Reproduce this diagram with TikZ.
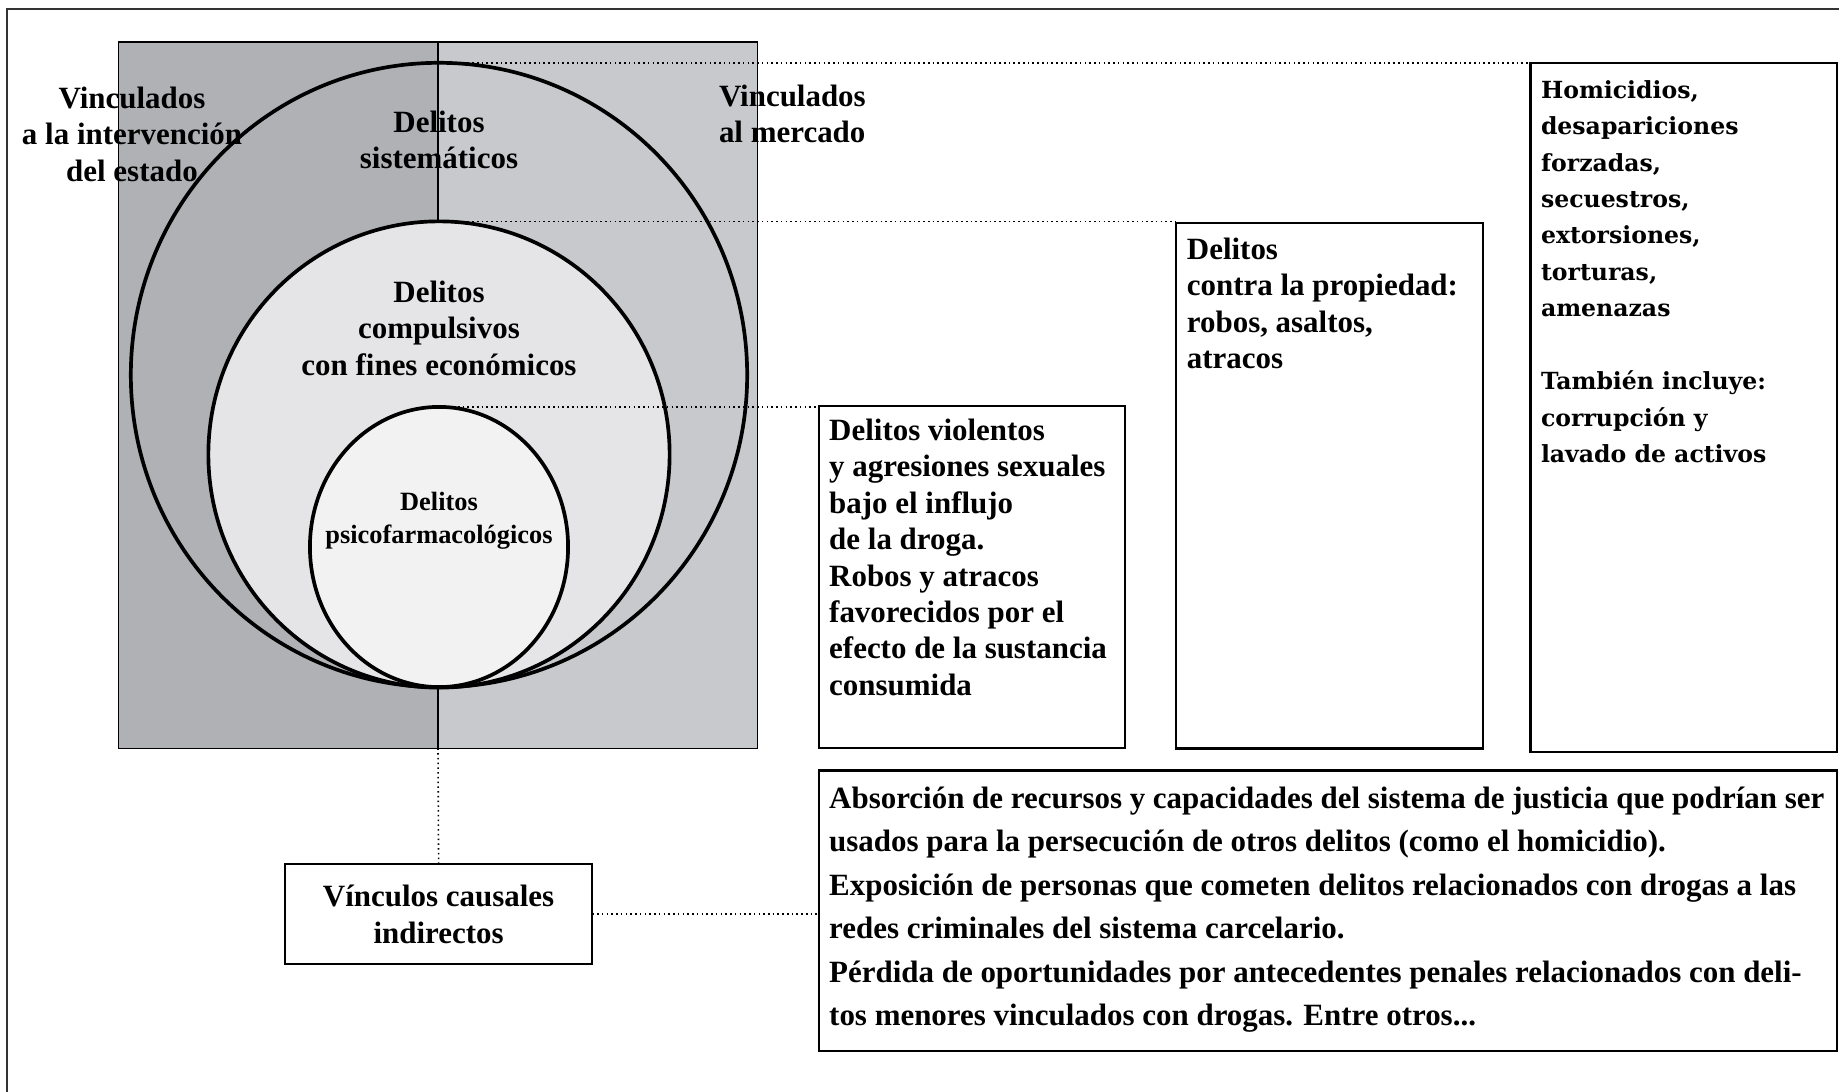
\documentclass[tikz,border=0pt]{standalone}
\usepackage{fontspec}
\newfontfamily\libserif{Liberation Serif}
\newfontfamily\djserif{DejaVu Serif}
\usetikzlibrary{positioning,shapes.geometric}

\definecolor{stategrey}{RGB}{176,177,181}
\definecolor{marketgrey}{RGB}{200,201,204}
\definecolor{compfill}{RGB}{229,229,231}
\definecolor{psicofill}{RGB}{242,242,243}

\begin{document}
\begin{tikzpicture}[x=0.01cm, y=-0.01cm,
  box/.style = {draw, line width=0.6pt, rectangle, inner sep=0pt, outer sep=0pt},
  ring/.style = {draw, ellipse, line width=1.05pt, inner sep=0pt, outer sep=0pt},
  txt/.style = {inner sep=0pt, outer sep=0pt, align=left, font=\libserif\bfseries\fontsize{8.8}{10.36}\selectfont},
  ctxt/.style = {txt, align=center},
  link/.style = {line width=0.45pt, dash pattern=on 0.45pt off 0.9pt}]
\useasboundingbox (0,0) rectangle (1839,1092);
\draw[line width=0.5pt, black!80] (7,9) rectangle (1900,1150);

% square split in two halves
\node[minimum width=6.39cm, minimum height=7.06cm, inner sep=0pt, outer sep=0pt] (sq) at (438,395.2) {};
\fill[stategrey] (sq.north west) rectangle (sq.south);
\fill[marketgrey] (sq.north) rectangle (sq.south east);
\draw[line width=0.4pt] (sq.north west) rectangle (sq.south east);
\draw[line width=0.4pt] (sq.north) -- (sq.south);

% nested ovals
\node[ring, minimum width=6.16cm, minimum height=6.24cm] (outer) at (439,375) {};
\node[ring, fill=compfill, minimum width=4.61cm, minimum height=4.66cm] (middle) at (439,454.5) {};
\node[ring, fill=psicofill, minimum width=2.58cm, minimum height=2.80cm] (inner) at (439,547) {};

\node[ctxt] (estado) at (132,134) {Vinculados\\a la intervención\\del estado};
\node[txt, anchor=west] (mercado) at (719,114) {Vinculados\\al mercado};
\node[ctxt] (sist) at (439,140) {Delitos\\sistemáticos};
\node[ctxt] (comp) at (439,328) {Delitos\\compulsivos\\con fines económicos};
\node[ctxt, font=\libserif\bfseries\fontsize{7.5}{9.33}\selectfont] (psico) at (439,521) {Delitos\\psicofarmacológicos};

% boxes on the right
\node[box, anchor=north west, minimum width=3.061cm, minimum height=3.424cm] (viol) at (818.6,405.8) {};
\node[txt, below right=0.13cm and 0.106cm of viol.north west] (violtxt) {Delitos violentos\\y agresiones sexuales\\bajo el influjo\\de la droga.\\Robos y atracos\\favorecidos por el\\efecto de la sustancia\\consumida};

\node[box, anchor=north west, minimum width=3.061cm, minimum height=5.254cm] (prop) at (1176.3,222.8) {};
\node[txt, below right=0.15cm and 0.106cm of prop.north west] (proptxt) {Delitos\\contra la propiedad:\\robos, asaltos,\\atracos};

\node[box, anchor=north west, minimum width=3.061cm, minimum height=6.885cm] (homic) at (1530.5,63.3) {};
\node[txt, font=\djserif\bfseries\fontsize{6.7}{10.36}\selectfont, below right=0.17cm and 0.105cm of homic.north west] (homictxt) {Homicidios,\\desapariciones\\forzadas,\\secuestros,\\extorsiones,\\torturas,\\amenazas\\[10.36pt]También incluye:\\corrupción y\\lavado de activos};

\node[box, anchor=north west, minimum width=10.18cm, minimum height=2.803cm] (bot) at (818.6,770.5) {};
\node[txt, font=\libserif\bfseries\fontsize{8.8}{12.35}\selectfont, below right=0.165cm and 0.106cm of bot.north west] (bottxt) {Absorción de recursos y capacidades del sistema de justicia que podrían ser\\usados para la persecución de otros delitos (como el homicidio).\\Exposición de personas que cometen delitos relacionados con drogas a las\\redes criminales del sistema carcelario.\\Pérdida de oportunidades por antecedentes penales relacionados con deli-\\tos menores vinculados con drogas. Entre otros...};

\node[box, ctxt, minimum width=3.073cm, minimum height=0.997cm] (vinc) at (438.6,914.2) {Vínculos causales\\indirectos};

% dotted links
\draw[link] (outer.north) -- (outer.north -| homic.west);
\draw[link] (middle.north) -- (middle.north -| prop.west);
\draw[link] (inner.north) -- (inner.north -| viol.west);
\draw[link] (sq.south) -- (vinc.north);
\draw[link] (vinc.east) -- (vinc.east -| bot.west);
\end{tikzpicture}
\end{document}
